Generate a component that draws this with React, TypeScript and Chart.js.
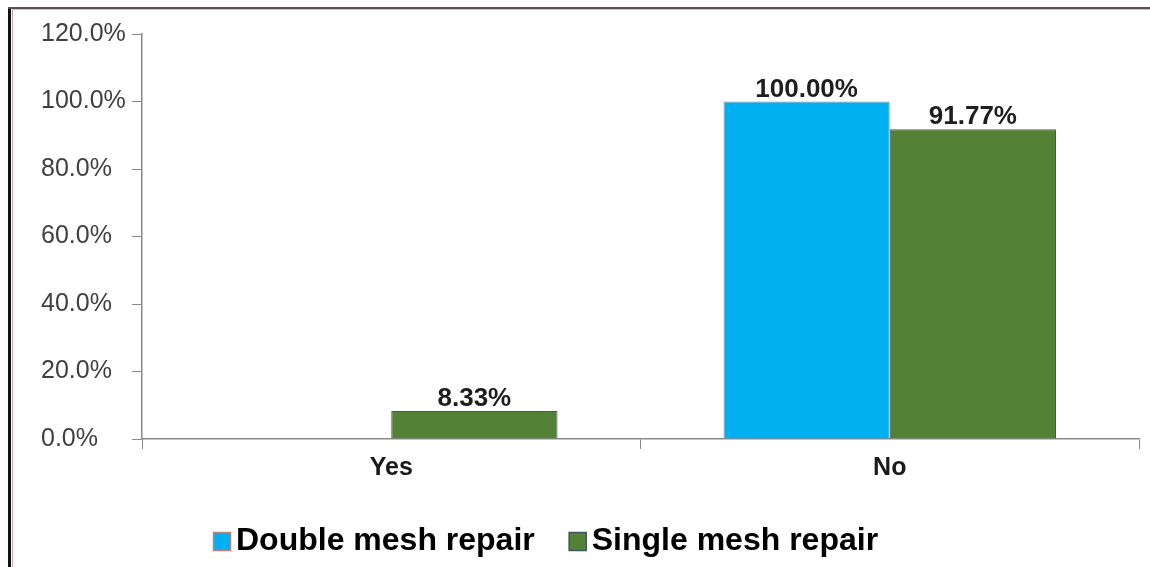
import React, { useEffect, useRef } from "react";
import { Chart, registerables } from "chart.js";

Chart.register(...registerables);

const categories = ["Yes", "No"];
const doubleMesh = [0, 100];
const singleMesh = [8.33, 91.77];
const seriesNames = ["Double mesh repair", "Single mesh repair"];
const yTicks = [0, 20, 40, 60, 80, 100, 120];

const FONT = "'Liberation Sans', Arial, sans-serif";

const framePlugin = {
  id: "frame",
  beforeDraw(chart: any) {
    const ctx = chart.ctx;
    ctx.save();
    ctx.fillStyle = "#ffffff";
    ctx.fillRect(0, 0, chart.width, chart.height);
    ctx.fillStyle = "#111111";
    ctx.fillRect(8, 7, 3, chart.height - 7);
    ctx.fillStyle = "#c9a4a4";
    ctx.fillRect(12, 9, 1, chart.height - 9);
    ctx.fillStyle = "#5a5252";
    ctx.fillRect(8, 7, chart.width - 8, 2);
    ctx.fillStyle = "#d8bcbc";
    ctx.fillRect(12, 9, chart.width - 12, 1);
    ctx.restore();
  },
};

const labelPlugin = {
  id: "barLabels",
  afterDatasetsDraw(chart: any) {
    const ctx = chart.ctx;
    ctx.save();
    ctx.font = `bold 26px ${FONT}`;
    ctx.fillStyle = "#1e1e1e";
    ctx.textAlign = "center";
    ctx.textBaseline = "alphabetic";
    chart.data.datasets.forEach((ds: any, di: number) => {
      const meta = chart.getDatasetMeta(di);
      meta.data.forEach((bar: any, i: number) => {
        const v = ds.data[i];
        if (!v) return;
        ctx.fillText(v.toFixed(2) + "%", bar.x, bar.y - 5);
      });
    });
    ctx.restore();
  },
};

const legendPlugin = {
  id: "customLegend",
  afterDraw(chart: any) {
    const ctx = chart.ctx;
    ctx.save();
    ctx.font = `bold 32px ${FONT}`;
    ctx.textBaseline = "middle";
    ctx.textAlign = "left";
    let x = 213;
    const cy = 541;
    chart.data.datasets.forEach((ds: any) => {
      ctx.fillStyle = ds.backgroundColor;
      ctx.fillRect(x, cy - 9, 18, 19);
      ctx.strokeStyle = ds.borderColor;
      ctx.lineWidth = 1.5;
      ctx.strokeRect(x + 0.5, cy - 8.5, 17, 18);
      ctx.fillStyle = "#000000";
      ctx.fillText(ds.label, x + 23, cy);
      x += 23 + ctx.measureText(ds.label).width + 34;
    });
    ctx.restore();
  },
};

export default function App() {
  const ref = useRef<HTMLCanvasElement>(null);
  useEffect(() => {
    if (!ref.current) return;
    const chart = new Chart(ref.current, {
      type: "bar",
      data: {
        labels: categories,
        datasets: [
          {
            label: seriesNames[0],
            data: doubleMesh,
            backgroundColor: "#00b0f0",
            borderColor: "#c08080",
            borderWidth: 1,
            categoryPercentage: 0.667,
            barPercentage: 1,
          },
          {
            label: seriesNames[1],
            data: singleMesh,
            backgroundColor: "#538135",
            borderColor: "#3e5866",
            borderWidth: 1,
            categoryPercentage: 0.667,
            barPercentage: 1,
          },
        ],
      },
      options: {
        responsive: false,
        animation: false,
        layout: { padding: { left: 41, right: 11, top: 34, bottom: 0 } },
        plugins: {
          legend: { display: false },
          tooltip: { enabled: false },
        },
        scales: {
          x: {
            grid: {
              offset: true,
              drawOnChartArea: false,
              drawTicks: true,
              tickLength: 10,
              color: "#8a8a8a",
            },
            border: { color: "#8a8a8a", width: 1.5 },
            ticks: {
              font: { family: FONT, size: 25, weight: "bold" },
              color: "#1a1a1a",
              padding: 4,
            },
            afterFit(scale: any) {
              scale.height = 128;
            },
          },
          y: {
            min: 0,
            max: 120,
            afterBuildTicks(scale: any) {
              scale.ticks = yTicks.map((v) => ({ value: v }));
            },
            grid: {
              drawOnChartArea: false,
              drawTicks: true,
              tickLength: 10,
              color: "#8a8a8a",
            },
            border: { color: "#8a8a8a", width: 1.5 },
            ticks: {
              crossAlign: "far",
              font: { family: FONT, size: 25 },
              color: "#404040",
              callback: (v: any) => Number(v).toFixed(1) + "%",
            },
            afterFit(scale: any) {
              scale.width = 101;
            },
          },
        },
      },
      plugins: [framePlugin, labelPlugin, legendPlugin],
    });
    return () => chart.destroy();
  }, []);
  return (
    <div style={{ position: "absolute", left: 0, top: 0, width: 1150, height: 567, background: "#fff" }}>
      <canvas ref={ref} width={1150} height={567} style={{ display: "block" }} />
    </div>
  );
}
